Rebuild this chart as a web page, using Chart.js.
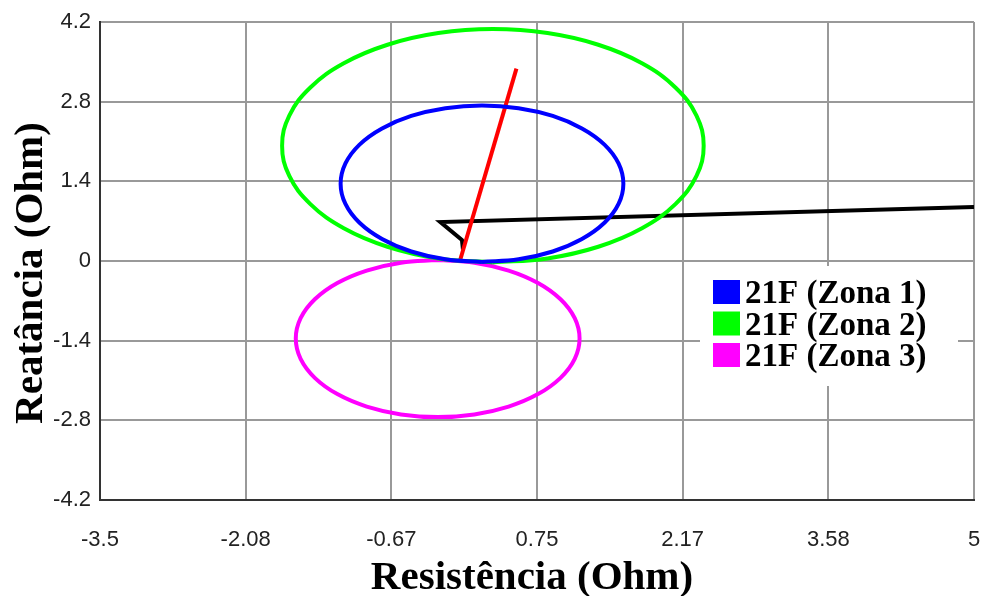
<!DOCTYPE html>
<html>
<head>
<meta charset="utf-8">
<script src="https://cdn.jsdelivr.net/npm/chart.js@4.4.1/dist/chart.umd.min.js"></script>
<style>
body{margin:0;background:#fff;}
</style>
</head>
<body>
<canvas id="zoneChart" width="983" height="596"></canvas>
<script>

/* =========================================
   Data
========================================= */

const zoneLabels = ["21F (Zona 1)", "21F (Zona 2)", "21F (Zona 3)"];
const zoneColors = ["#0000FF", "#00FF00", "#FF00FF"];

// Zona 1 mho circle (R, X pairs), starting near the origin
const zone1R = [0.215, 0.571, 0.903, 1.187, 1.406, 1.543, 1.590, 1.543, 1.406, 1.187, 0.903, 0.571, 0.215,
                -0.141, -0.473, -0.757, -0.976, -1.113, -1.160, -1.113, -0.976, -0.757, -0.473, -0.141, 0.215];
const zone1X = [-0.017, 0.030, 0.167, 0.386, 0.671, 1.002, 1.358, 1.714, 2.046, 2.330, 2.549, 2.686, 2.733,
                2.686, 2.549, 2.330, 2.046, 1.714, 1.358, 1.002, 0.671, 0.386, 0.167, 0.030, -0.017];

// Zona 2
const zone2R = [0.321, 0.852, 1.346, 1.771, 2.096, 2.301, 2.371, 2.301, 2.096, 1.771, 1.346, 0.852, 0.321,
                -0.210, -0.704, -1.129, -1.454, -1.659, -1.729, -1.659, -1.454, -1.129, -0.704, -0.210, 0.321];
const zone2X = [-0.025, 0.045, 0.250, 0.575, 1.000, 1.494, 2.025, 2.556, 3.050, 3.475, 3.800, 4.005, 4.075,
                4.005, 3.800, 3.475, 3.050, 2.556, 2.025, 1.494, 1.000, 0.575, 0.250, 0.045, -0.025];

// Zona 3 (reverse)
const zone3R = [-0.216, -0.573, -0.906, -1.192, -1.411, -1.549, -1.596, -1.549, -1.411, -1.192, -0.906, -0.573, -0.216,
                0.141, 0.474, 0.760, 0.979, 1.117, 1.164, 1.117, 0.979, 0.760, 0.474, 0.141, -0.216];
const zone3X = [0.017, -0.030, -0.168, -0.387, -0.673, -1.006, -1.363, -1.720, -2.053, -2.339, -2.558, -2.696, -2.743,
                -2.696, -2.558, -2.339, -2.053, -1.720, -1.363, -1.006, -0.673, -0.387, -0.168, -0.030, 0.017];

// line impedance
const lineR = [0, 0.55];
const lineX = [0, 3.38];

// impedance trajectory
const trajR = [5, -0.19, 0.02, 0.03];
const trajX = [0.95, 0.685, 0.37, 0.2];

const xTickValues = [-3.5, -2.0833, -0.6667, 0.75, 2.1667, 3.5833, 5];
const xTickLabels = ["-3.5", "-2.08", "-0.67", "0.75", "2.17", "3.58", "5"];
const yTickValues = [-4.2, -2.8, -1.4, 0, 1.4, 2.8, 4.2];
const yTickLabels = ["-4.2", "-2.8", "-1.4", "0", "1.4", "2.8", "4.2"];


function toPoints(rs, xs){
    return rs.map((r,i)=>({x:r, y:xs[i]}));
}

function lineSet(label, rs, xs, color, tension){
    return {
        label,
        data: toPoints(rs, xs),
        showLine: true,
        borderColor: color,
        backgroundColor: color,
        borderWidth: 4,
        pointRadius: 0,
        tension: tension,
        fill: false
    };
}


/* =========================================
   Legend + axis titles
========================================= */

const zonePlugin = {
    id: "zonePlugin",
    afterDraw(chart){
        const ctx = chart.ctx;
        ctx.save();

        // legend box
        ctx.fillStyle = "#fff";
        ctx.fillRect(700, 266, 258, 120);
        ctx.font = "bold 33px 'Liberation Serif'";
        ctx.textAlign = "left";
        ctx.textBaseline = "alphabetic";
        chart.data.datasets.slice(0,3).forEach((ds,i)=>{
            const top = 280 + i*31.5;
            ctx.fillStyle = ds.borderColor;
            ctx.fillRect(713, top, 27, 24);
            ctx.fillStyle = "#000";
            ctx.fillText(ds.label, 745, top + 23);
        });

        // axis titles
        ctx.font = "bold 41px 'Liberation Serif'";
        ctx.fillStyle = "#000";
        ctx.textAlign = "center";
        ctx.fillText("Resistência (Ohm)", 532, 589);

        ctx.translate(42, 273);
        ctx.rotate(-Math.PI/2);
        ctx.fillText("Reatância (Ohm)", 0, 0);

        ctx.restore();
    }
};


/* =========================================
   Chart
========================================= */

const tickFont = { family: "'Liberation Sans'", size: 22 };

new Chart(document.getElementById("zoneChart").getContext("2d"), {
    type: "scatter",
    data: {
        datasets: [
            lineSet(zoneLabels[0], zone1R, zone1X, zoneColors[0], 0.4),
            lineSet(zoneLabels[1], zone2R, zone2X, zoneColors[1], 0.4),
            lineSet(zoneLabels[2], zone3R, zone3X, zoneColors[2], 0.4),
            lineSet("Linha", lineR, lineX, "#FF0000", 0),
            lineSet("Trajetória", trajR, trajX, "#000000", 0)
        ]
    },
    options: {
        responsive: false,
        animation: false,
        layout: { padding: { top: 22, right: 9, left: 0, bottom: 0 } },
        plugins: {
            legend: { display: false },
            tooltip: { enabled: false }
        },
        scales: {
            x: {
                type: "linear",
                min: -3.5,
                max: 5,
                afterBuildTicks: scale => { scale.ticks = xTickValues.map(v=>({value:v})); },
                afterFit: scale => {
                    scale.height = 96;
                    scale.paddingLeft = 0;
                    scale.paddingRight = 0;
                },
                ticks: {
                    font: tickFont,
                    color: "#222",
                    padding: 27,
                    maxRotation: 0,
                    autoSkip: false,
                    callback: (v,i) => xTickLabels[i]
                },
                grid: { color: "#999", lineWidth: 2, drawTicks: false },
                border: { color: "#333", width: 2 }
            },
            y: {
                type: "linear",
                min: -4.2,
                max: 4.2,
                afterBuildTicks: scale => { scale.ticks = yTickValues.map(v=>({value:v})); },
                afterFit: scale => {
                    scale.width = 100;
                    scale.paddingTop = 0;
                    scale.paddingBottom = 0;
                },
                ticks: {
                    font: tickFont,
                    color: "#222",
                    padding: 9,
                    autoSkip: false,
                    callback: (v,i) => yTickLabels[i]
                },
                grid: { color: "#999", lineWidth: 2, drawTicks: false },
                border: { color: "#333", width: 2 }
            }
        }
    },
    plugins: [zonePlugin]
});

</script>
</body>
</html>
